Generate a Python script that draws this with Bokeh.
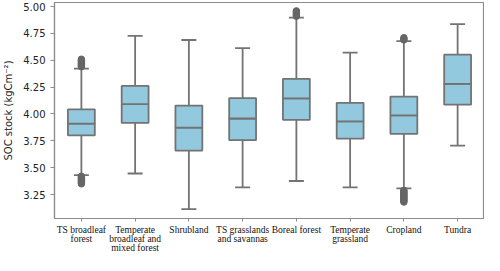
from bokeh.plotting import figure
from bokeh.models import ColumnDataSource, Whisker, TeeHead, Range1d, FixedTicker, NumeralTickFormatter
from bokeh.embed import file_html
from bokeh.resources import INLINE

categories = ["TS broadleaf\nforest", "Temperate\nbroadleaf and\nmixed forest", "Shrubland",
              "TS grasslands\nand savannas", "Boreal forest", "Temperate\ngrassland", "Cropland", "Tundra"]
lower = [3.43, 3.446, 3.115, 3.317, 3.376, 3.317, 3.308, 3.706]
q1 = [3.80, 3.917, 3.659, 3.756, 3.946, 3.771, 3.815, 4.087]
median = [3.911, 4.092, 3.873, 3.958, 4.145, 3.932, 3.987, 4.28]
q3 = [4.043, 4.262, 4.078, 4.148, 4.327, 4.104, 4.162, 4.552]
upper = [4.423, 4.728, 4.689, 4.614, 4.897, 4.572, 4.678, 4.836]

out_cat = ([categories[0]] * 16 + [categories[4]] * 6 + [categories[6]] * 15)
out_val = [4.44, 4.45, 4.46, 4.47, 4.48, 4.49, 4.50, 4.51,
           3.42, 3.41, 3.40, 3.39, 3.38, 3.37, 3.36, 3.35,
           4.91, 4.92, 4.93, 4.94, 4.95, 4.96,
           4.69, 4.70, 4.71,
           3.29, 3.28, 3.27, 3.26, 3.25, 3.24, 3.23, 3.22, 3.21, 3.20, 3.19, 3.18]

y_ticks = [3.25, 3.50, 3.75, 4.00, 4.25, 4.50, 4.75, 5.00]

FILL = "#92c9df"
LINE = "#737373"
AXIS = "#8c8c8c"

src = ColumnDataSource(dict(cat=categories, lower=lower, q1=q1, median=median, q3=q3, upper=upper))

p = figure(x_range=categories, y_range=Range1d(3.027, 5.038), width=484, height=255,
           output_backend="svg", toolbar_location=None,
           min_border_left=40, min_border_right=0, min_border_top=2, min_border_bottom=30)

w = Whisker(base="cat", upper="upper", lower="lower", source=src, line_color=LINE, line_width=1.8,
            upper_head=TeeHead(size=15, line_color=LINE, line_width=1.8),
            lower_head=TeeHead(size=15, line_color=LINE, line_width=1.8))
w.level = "underlay"
p.add_layout(w)

p.vbar(x="cat", top="median", bottom="q1", width=0.5, source=src, fill_color=FILL,
       line_color=LINE, line_width=1.8)
p.vbar(x="cat", top="q3", bottom="median", width=0.5, source=src, fill_color=FILL,
       line_color=LINE, line_width=1.8)

p.scatter(x=out_cat, y=out_val, size=6.5, fill_color="#666666", line_color="#666666")

p.xgrid.visible = False
p.ygrid.visible = False
p.outline_line_color = AXIS
p.outline_line_width = 1.2

p.yaxis.ticker = FixedTicker(ticks=y_ticks)
p.yaxis.formatter = NumeralTickFormatter(format="0.00")
p.yaxis.axis_label = "SOC stock (kgCm\u207b\u00b2)"
p.yaxis.axis_label_text_font = "DejaVu Sans"
p.yaxis.axis_label_text_font_size = "10px"
p.yaxis.axis_label_text_font_style = "normal"
p.yaxis.axis_label_text_color = "#222222"
p.yaxis.axis_label_standoff = 6
p.yaxis.major_label_text_font = "DejaVu Sans"
p.yaxis.major_label_text_font_size = "10px"
p.yaxis.major_label_text_color = "#222222"
p.yaxis.minor_tick_line_color = None
p.yaxis.major_tick_out = 4
p.yaxis.major_tick_in = 0

p.xaxis.major_label_text_font = "Liberation Serif"
p.xaxis.major_label_text_font_size = "9.5px"
p.xaxis.major_label_text_color = "#111111"
p.xaxis.major_label_text_line_height = 0.9
p.xaxis.major_label_standoff = 3
p.xaxis.major_tick_out = 3
p.xaxis.major_tick_in = 0

for ax in (p.xaxis, p.yaxis):
    ax.axis_line_color = AXIS
    ax.axis_line_width = 1.2
    ax.major_tick_line_color = AXIS

open("out.html", "w").write(file_html(p, INLINE))
